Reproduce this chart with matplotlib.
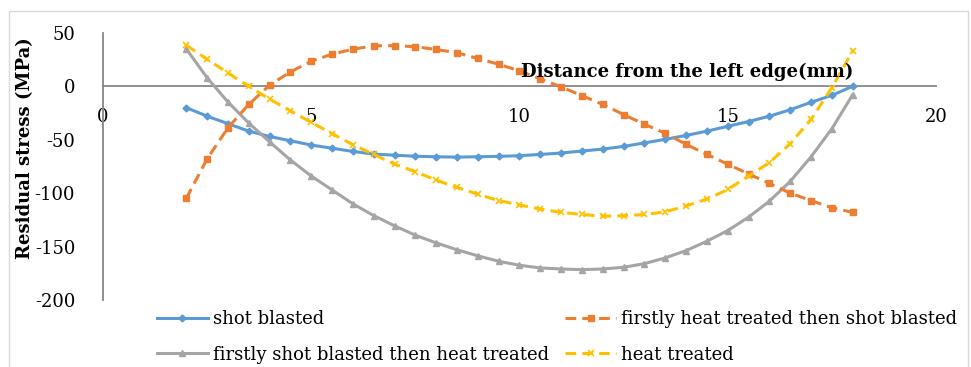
import matplotlib
matplotlib.use('Agg')
import matplotlib.pyplot as plt
import numpy as np

# distance from left edge (mm)
x = np.arange(2, 18.01, 0.5)

shot_blasted = [-20, -28, -35, -42, -47, -51, -55, -58, -61, -63.5, -64.5, -65.5,
                -66, -66.3, -66, -65.6, -65, -63.8, -62.5, -60.6, -58.8, -56.3,
                -53, -49.7, -46, -42, -37.5, -33, -28, -22, -15, -8.5, 0]
heat_then_shot = [-105, -68, -39, -17, 1, 13.4, 23.4, 30, 34.7, 37.8, 38, 37,
                  34.4, 31.3, 26, 20.6, 14.4, 6.9, -0.6, -8.8, -17, -26.5,
                  -35.6, -44, -54.4, -63.8, -73, -82, -91, -100, -107, -113.7, -118]
shot_then_heat = [35, 8, -14.7, -34.4, -52, -69, -84, -97, -110, -121, -130.6,
                  -139.4, -146.6, -153, -158.7, -163.8, -167.5, -170, -171, -171.6,
                  -171, -169.4, -166, -160.6, -153.8, -145, -135, -122.5, -107.5,
                  -89, -66, -39.7, -7.8]
heat_treated = [38.4, 25.3, 12.5, 0, -12, -23, -33.8, -44.3, -54.7, -63.8, -72.8,
                -80, -87.8, -94.7, -101, -107, -111, -115, -118, -120, -121.6,
                -121.2, -120, -117.5, -112, -105.6, -96.6, -84, -71.5, -53.7,
                -31, -1.2, 33]

COLORS = {
    'blue': '#5B9BD5',
    'orange': '#ED7D31',
    'gray': '#A5A5A5',
    'yellow': '#FFC000',
    'axis': '#868686',
}

plt.rcParams['font.family'] = 'DejaVu Serif'
plt.rcParams['axes.unicode_minus'] = False

fig = plt.figure(figsize=(9.71, 3.67), dpi=100)
ax = fig.add_axes([0.106, 0.1826, 0.858, 0.728])

l1, = ax.plot(x, shot_blasted, color=COLORS['blue'], lw=2.2, marker='D', ms=3.5,
              label='shot blasted')
l3, = ax.plot(x, shot_then_heat, color=COLORS['gray'], lw=2.2, marker='^', ms=5,
              label='firstly shot blasted then heat treated')
l2, = ax.plot(x, heat_then_shot, color=COLORS['orange'], lw=2.2, marker='s', ms=5,
              ls=(0, (3.5, 2)), label='firstly heat treated then shot blasted')
l4, = ax.plot(x, heat_treated, color=COLORS['yellow'], lw=2.2, marker='x', ms=5,
              mew=1.2, ls=(0, (3.5, 2)), label='heat treated')

ax.set_xlim(0, 20)
ax.set_ylim(-200, 50)
ax.set_xticks([0, 5, 10, 15, 20])
ax.set_yticks([-200, -150, -100, -50, 0, 50])

# axis crosses at y = 0 like the original spreadsheet chart
ax.spines['bottom'].set_position(('data', 0))
ax.spines['top'].set_visible(False)
ax.spines['right'].set_visible(False)
ax.spines['bottom'].set_color(COLORS['axis'])
ax.spines['left'].set_color(COLORS['axis'])
ax.spines['bottom'].set_linewidth(1.3)
ax.spines['left'].set_linewidth(1.3)
ax.spines['bottom'].set_zorder(0)
ax.tick_params(length=0, labelsize=13, colors='black')
ax.tick_params(axis='x', pad=16)
ax.tick_params(axis='y', pad=20)
ax.set_facecolor('none')

ax.set_ylabel('Residual stress (MPa)', fontsize=13, fontweight='bold')
ax.yaxis.set_label_coords(-0.083, 0.567)
fig.text(0.708, 0.803, 'Distance from the left edge(mm)', fontsize=13,
         fontweight='bold', ha='center', va='center')

fig.legend(handles=[l1, l3, l2, l4], ncol=2, loc='lower left',
           bbox_to_anchor=(0.145, -0.035), frameon=False, fontsize=13,
           handlelength=2.8, handletextpad=0.3, columnspacing=0.9,
           labelspacing=0.95)

# outer chart border
rect = plt.Rectangle((0.0093, -0.02), 0.988, 0.99, facecolor='none',
                     edgecolor='#D9D9D9', lw=1, transform=fig.transFigure)
fig.add_artist(rect)

fig.savefig('out.png', dpi=100, facecolor='white')
